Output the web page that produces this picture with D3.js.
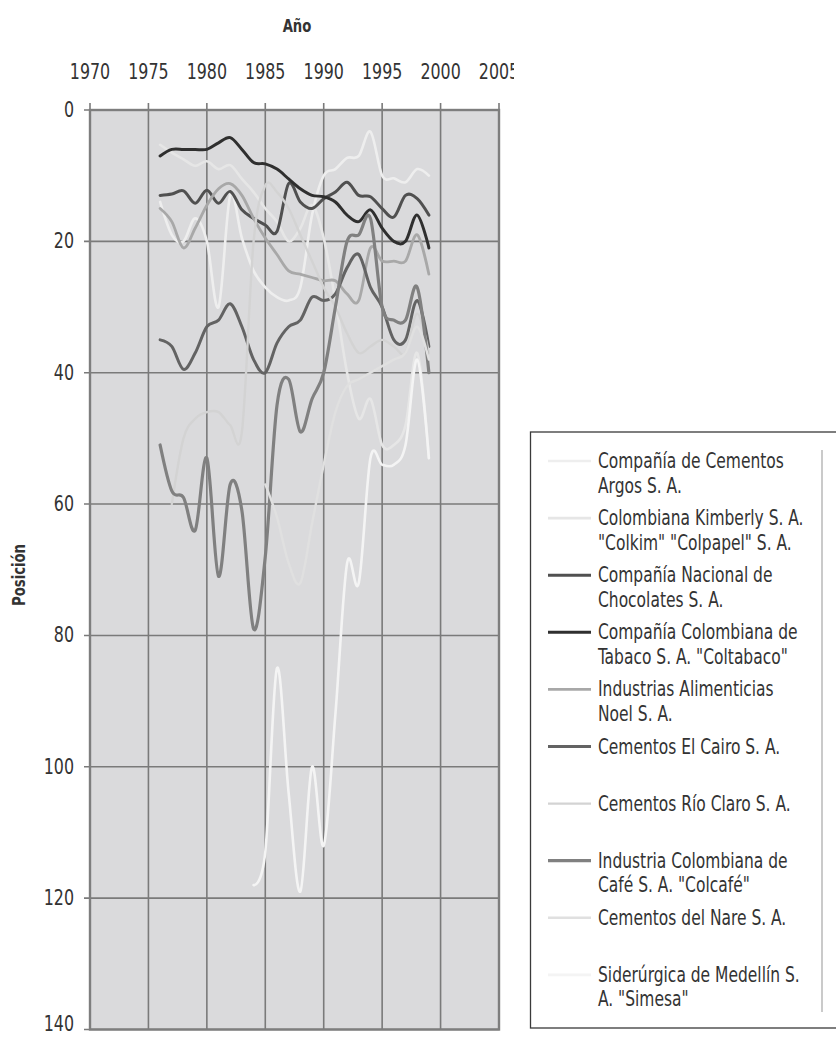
<!DOCTYPE html>
<html><head><meta charset="utf-8">
<script src="https://cdn.jsdelivr.net/npm/d3@7"></script>
<style>
html,body{margin:0;padding:0;background:#fff;}
svg{display:block;font-family:"DejaVu Sans Condensed","Liberation Sans Narrow","Arial Narrow",sans-serif;}
</style></head><body>
<svg id="c" width="836" height="1037"></svg>
<script>
const years = d3.range(1976, 2000);
const xTicks = [1970,1975,1980,1985,1990,1995,2000,2005];
const yTicks = [0,20,40,60,80,100,120,140];
const names = [
  ["Compañía de Cementos","Argos S. A."],
  ["Colombiana Kimberly S. A.","\"Colkim\" \"Colpapel\" S. A."],
  ["Compañía Nacional de","Chocolates S. A."],
  ["Compañía Colombiana de","Tabaco S. A. \"Coltabaco\""],
  ["Industrias Alimenticias","Noel S. A."],
  ["Cementos El Cairo S. A."],
  ["Cementos Río Claro S. A."],
  ["Industria Colombiana de","Café S. A. \"Colcafé\""],
  ["Cementos del Nare S. A."],
  ["Siderúrgica de Medellín S.","A. \"Simesa\""]
];
const colors = ["#eeeeee","#e6e6e6","#505050","#2f2f2f","#a8a8a8","#636363","#d3d3d3","#808080","#e0e0e0","#f4f4f4"];
const widths = [2.6,2.6,3,3,2.8,3,2.4,3.2,2.4,2.6];

// values by year 1976..1999 (null = not ranked)
const argos     = [14,19,20,16.5,20,30,13,19.5,24.5,27,28.5,29,27,16,10,9,7.3,7,3.3,10,10.4,11,9,10];
const kimberly  = [5.3,6.5,7.5,8.5,7.8,9,8.4,10.5,12.5,15,17,20,18,14.5,19.5,29,40,47,44,51,51,48,37,53];
const chocolates= [13,12.8,12.3,14.2,12.2,14.2,12.4,15.2,16.5,17.5,18.5,11.2,14,15,13.5,12.5,11,13,13.2,15,16.3,13,13.5,16];
const tabaco    = [7,6,6,6,6,5,4.2,6,8,8.2,9,10.5,12,13,13.2,14,16,17,15.2,18,20,20,16,21];
const noel      = [15,17,21,18,14.5,12,11.2,13,16.5,19.5,22,24.5,25,25.5,26,26,28,29,21,23,23,23,19,25];
const cairo     = [35,36,39.5,37,33,32,29.5,33,38,40,35.5,33,32,28.5,29,28,24,22,27,30,35,35,29,36];
const rioClaro  = [null,60,50,47,46,46,48,49,20,11.5,12.5,15,19,23,27,30,34,37,36,35,36,37,31,37];
const colcafe   = [51,58,59,64,53,71,57,61,79,68,45,41,49,44,40,30,20,19,16.5,30,32,32,27,40];
const nare      = [null,null,null,null,null,null,null,null,null,57,62,69,72,63,54,46,42,41,40,39,38,37,33,38];
const simesa    = [null,null,null,null,null,null,null,null,118,113,85,104,119,100,112,92,69,72,53,54,54,51,38,53];
const series = [argos,kimberly,chocolates,tabaco,noel,cairo,rioClaro,colcafe,nare,simesa];

const svg = d3.select("#c");
const x = d3.scaleLinear().domain([1970,2005]).range([90,499]);
const y = d3.scaleLinear().domain([0,140]).range([110,1029.5]);
const txt = "#333";
const SX = 0.84;

function label(parent, tx, ty, str, size, anchor, bold, rot){
  const t = parent.append("text")
    .attr("transform",`translate(${tx},${ty})${rot?` rotate(${rot})`:""} scale(${SX},1)`)
    .attr("text-anchor",anchor).attr("font-size",size).attr("fill",txt).text(str);
  if(bold) t.attr("font-weight","bold");
  return t;
}

svg.append("clipPath").attr("id","cl").append("rect").attr("x",0).attr("y",0).attr("width",514).attr("height",1037);
const g = svg.append("g").attr("clip-path","url(#cl)");

// plot background
g.append("rect").attr("x",x(1970)).attr("y",y(0)).attr("width",x(2005)-x(1970)).attr("height",y(140)-y(0))
  .attr("fill","#dadadc");

// gridlines
g.append("g").selectAll("line").data(xTicks).join("line")
  .attr("x1",d=>x(d)).attr("x2",d=>x(d)).attr("y1",y(0)-7).attr("y2",y(140))
  .attr("stroke","#7a7a7a").attr("stroke-width",1.6);
g.append("g").selectAll("line").data(yTicks).join("line")
  .attr("x1",x(1970)-6).attr("x2",x(2005)).attr("y1",d=>y(d)).attr("y2",d=>y(d))
  .attr("stroke","#7a7a7a").attr("stroke-width",1.6);
g.append("rect").attr("x",x(1970)).attr("y",y(0)).attr("width",x(2005)-x(1970)).attr("height",y(140)-y(0))
  .attr("fill","none").attr("stroke","#7e7e7e").attr("stroke-width",2.4);

// axis labels
xTicks.forEach(d=>label(g, x(d), 79, d, 21, "middle"));
yTicks.forEach(d=>label(g, 74, Math.min(y(d)+7, 1031), d, 21, "end"));
label(g, 297, 32, "Año", 17.5, "middle", true);
label(g, 25, 575, "Posición", 17.5, "middle", true, -90);

// series
const line = d3.line().defined(d=>d[1]!=null).x(d=>x(d[0])).y(d=>y(d[1])).curve(d3.curveCardinal.tension(0));
series.forEach((s,i)=>{
  g.append("path").datum(years.map((yr,j)=>[yr,s[j]]))
   .attr("d",line).attr("fill","none").attr("stroke",colors[i]).attr("stroke-width",widths[i])
   .attr("stroke-linejoin","round").attr("stroke-linecap","round");
});

// legend
const lg = svg.append("g");
lg.append("rect").attr("x",530.5).attr("y",432).attr("width",320).attr("height",596)
  .attr("fill","#fff").attr("stroke","#3a3a3a").attr("stroke-width",1.3);
lg.append("line").attr("x1",822).attr("x2",822).attr("y1",450).attr("y2",1012)
  .attr("stroke","#bdbdbd").attr("stroke-width",1.6);
names.forEach((n,i)=>{
  const yy = 461 + i*57.1;
  lg.append("line").attr("x1",548).attr("x2",591).attr("y1",yy).attr("y2",yy)
    .attr("stroke",colors[i]).attr("stroke-width",widths[i]);
  n.forEach((t,k)=>label(lg, 598, yy+7+k*24.5, t, 20.5, "start"));
});
</script></body></html>
